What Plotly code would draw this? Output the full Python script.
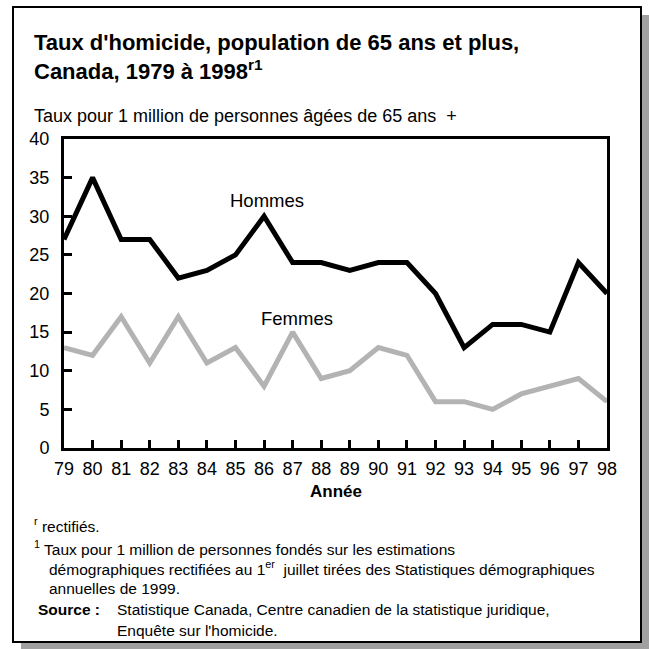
import plotly.graph_objects as go

years = list(range(1979, 1999))
tick_labels = ["79", "80", "81", "82", "83", "84", "85", "86", "87", "88",
               "89", "90", "91", "92", "93", "94", "95", "96", "97", "98"]
hommes = [27, 35, 27, 27, 22, 23, 25, 30, 24, 24, 23, 24, 24, 20, 13, 16, 16, 15, 24, 20]
femmes = [13, 12, 17, 11, 17, 11, 13, 8, 15, 9, 10, 13, 12, 6, 6, 5, 7, 8, 9, 6]
y_ticks = [0, 5, 10, 15, 20, 25, 30, 35, 40]

W, H = 649, 649
L, R, T, B = 64, 607, 139, 448
FONT = "Liberation Sans, Arial, sans-serif"

def px(x):
    return (x - L) / (R - L)

def py(y):
    return (B - y) / (B - T)

fig = go.Figure()
fig.add_trace(go.Scatter(x=years, y=femmes, mode="lines", name="Femmes",
                         line=dict(color="#b3b3b3", width=5), showlegend=False,
                         hoverinfo="skip"))
fig.add_trace(go.Scatter(x=years, y=hommes, mode="lines", name="Hommes",
                         line=dict(color="#000000", width=5), showlegend=False,
                         hoverinfo="skip"))

shapes = [
    dict(type="rect", xref="paper", yref="paper", layer="below",
         x0=px(21), x1=px(650), y0=py(15), y1=py(650),
         fillcolor="#a0a0a0", line=dict(width=0)),
    dict(type="rect", xref="paper", yref="paper", layer="below",
         x0=px(13), x1=px(641), y0=py(7), y1=py(642),
         fillcolor="#ffffff", line=dict(color="#000000", width=2)),
]

def ann(text, x, y, size, bold=False, anchor="left"):
    if bold:
        text = "<b>" + text + "</b>"
    return dict(text=text, xref="paper", yref="paper", x=px(x), y=py(y),
                xanchor=anchor, yanchor="middle", showarrow=False,
                font=dict(family=FONT, size=size, color="#000000"), align="left")

annotations = [
    ann("Taux d'homicide, population de 65 ans et plus,", 32, 42, 22, bold=True),
    ann("Canada, 1979 à 1998<sup>r1</sup>", 32, 70, 22, bold=True),
    ann("Taux pour 1 million de personnes âgées de 65 ans \u00a0+", 32, 116, 18),
    ann("Hommes", 267, 200, 18.5, anchor="center"),
    ann("Femmes", 297, 318, 18.5, anchor="center"),
    ann("Année", 336, 491, 17, bold=True, anchor="center"),
    ann("<sup>r</sup> rectifiés.", 32, 525, 15.5),
    ann("<sup>1</sup> Taux pour 1 million de personnes fondés sur les estimations", 32, 548, 15.5),
    ann("démographiques rectifiées au 1<sup>er</sup> \u00a0juillet tirées des Statistiques démographiques", 47, 568, 15.5),
    ann("annuelles de 1999.", 47, 588, 15.5),
    ann("Source :", 36, 609, 15.5, bold=True),
    ann("Statistique Canada, Centre canadien de la statistique juridique,", 115, 609, 15.5),
    ann("Enquête sur l'homicide.", 115, 630, 15.5),
]

fig.update_layout(
    width=W, height=H,
    margin=dict(l=L, r=W - R, t=T, b=H - B, pad=0),
    paper_bgcolor="#ffffff",
    plot_bgcolor="rgba(0,0,0,0)",
    font=dict(family=FONT, color="#000000"),
    shapes=shapes,
    annotations=annotations,
    showlegend=False,
)
fig.update_xaxes(range=[1979, 1998], tickvals=years, ticktext=tick_labels,
                 ticks="inside", ticklen=8, tickwidth=3, tickcolor="#000000",
                 showline=True, linewidth=3, linecolor="#000000", mirror=True,
                 showgrid=False, zeroline=False, ticklabelstandoff=2,
                 tickfont=dict(family=FONT, size=18, color="#000000"))
fig.update_yaxes(range=[0, 40], tickvals=y_ticks,
                 ticks="inside", ticklen=8, tickwidth=3, tickcolor="#000000",
                 showline=True, linewidth=3, linecolor="#000000", mirror=True,
                 showgrid=False, zeroline=False, ticklabelstandoff=8,
                 tickfont=dict(family=FONT, size=18, color="#000000"))

fig.write_html("out.html",
               config={"displayModeBar": False, "staticPlot": True},
               post_script="document.body.style.margin='0';document.body.style.overflow='hidden';")
